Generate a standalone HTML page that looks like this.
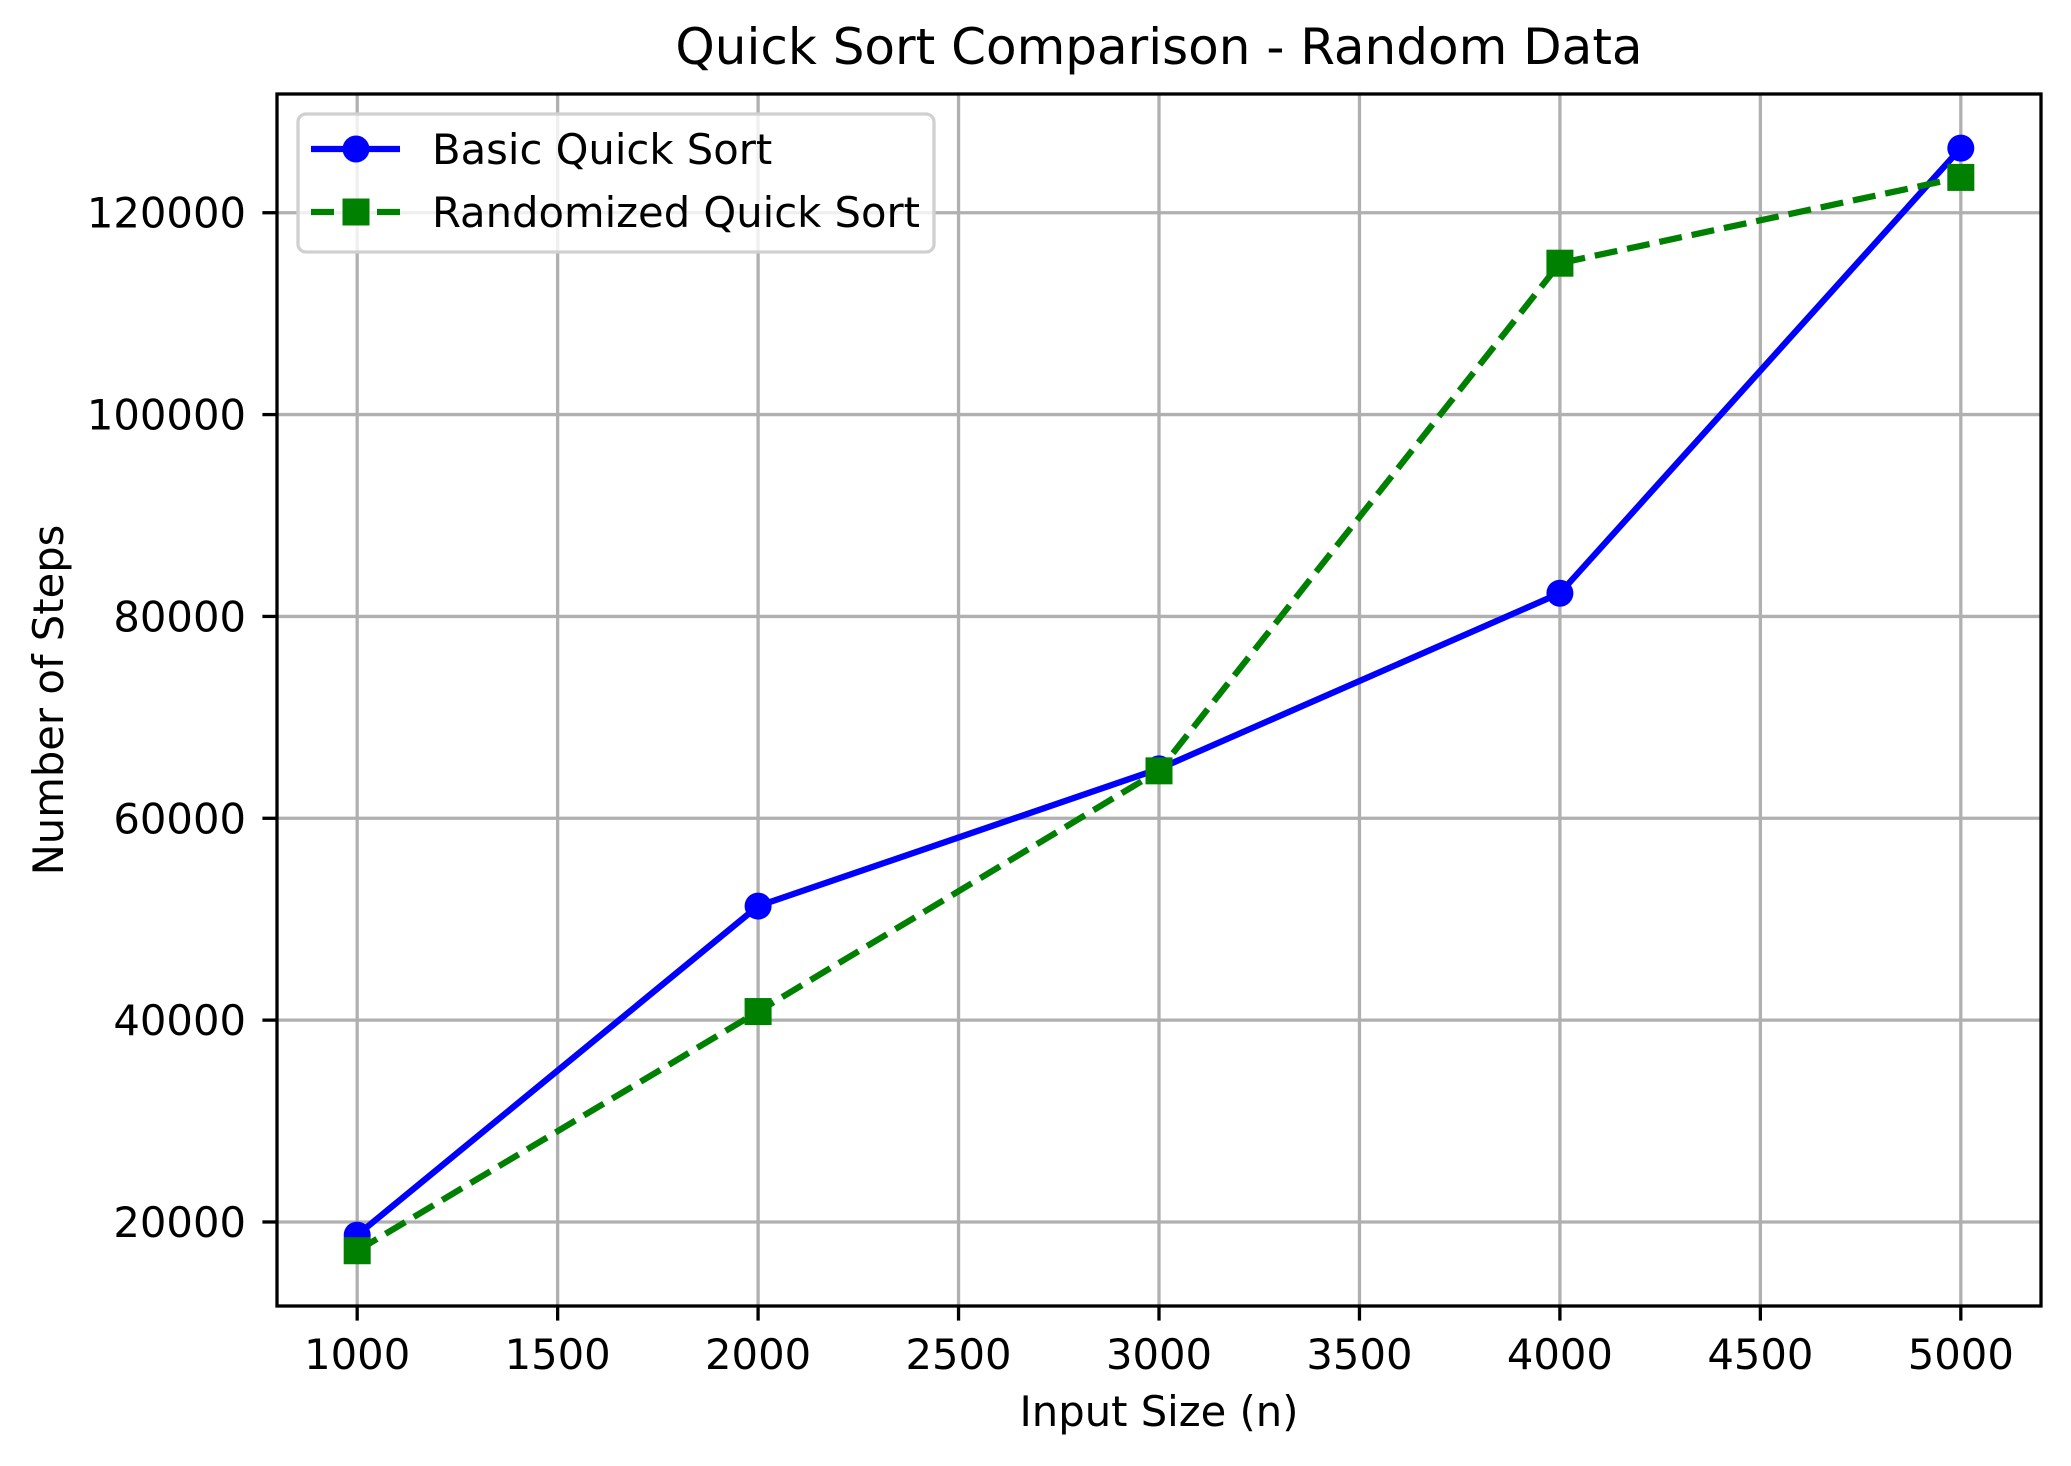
<!DOCTYPE html>
<html><head><meta charset="utf-8"><style>
html,body{margin:0;padding:0;background:#fff;}
svg{display:block;font-family:"DejaVu Sans","Liberation Sans",sans-serif;}
</style></head><body>
<svg id="chart" width="2071" height="1466" viewBox="0 0 2071 1466" xmlns="http://www.w3.org/2000/svg">
<rect x="0" y="0" width="2071" height="1466" fill="#fff"/>
<g id="grid"></g>
<g id="series"></g>
<rect x="277" y="94" width="1764" height="1212" fill="none" stroke="#000" stroke-width="3.3"/>
<g id="ticks"></g>
<text x="1159" y="64" font-size="50" text-anchor="middle">Quick Sort Comparison - Random Data</text>
<text x="1159" y="1426" font-size="41.7" text-anchor="middle">Input Size (n)</text>
<text x="0" y="0" font-size="41.7" text-anchor="middle" transform="translate(63,700) rotate(-90)">Number of Steps</text>
<g>
<rect x="298" y="114" width="636" height="138" rx="8" fill="#fff" fill-opacity="0.8" stroke="#d0d0d0" stroke-width="3.3"/>
<g>
<line x1="311" y1="149" x2="400" y2="149" stroke="#0000ff" stroke-width="6.25"/>
<circle cx="356" cy="149" r="13.5" fill="#0000ff"/>
<text x="432" y="164" font-size="41.7">Basic Quick Sort</text>
</g>
<g>
<line x1="311" y1="212" x2="400" y2="212" stroke="#008000" stroke-width="6.25" stroke-dasharray="23 10"/>
<rect x="342.5" y="198.5" width="27" height="27" fill="#008000"/>
<text x="432" y="227" font-size="41.7">Randomized Quick Sort</text>
</g>
</g>
</svg>
<script>
const xValues = [1000, 2000, 3000, 4000, 5000];
const basicSteps = [18700, 51300, 64900, 82300, 126400];
const randomizedSteps = [17150, 40850, 64700, 115000, 123500];
const xTicks = [1000, 1500, 2000, 2500, 3000, 3500, 4000, 4500, 5000];
const yTicks = [20000, 40000, 60000, 80000, 100000, 120000];

const NS = 'http://www.w3.org/2000/svg';
const L = 277, R = 2041, T = 94, B = 1306;
const XMIN = 800, XMAX = 5200, YMIN = 11675, YMAX = 131764;
function sx(v){ return L + (v - XMIN) / (XMAX - XMIN) * (R - L); }
function sy(v){ return B - (v - YMIN) / (YMAX - YMIN) * (B - T); }
function mk(tag, attrs, parent){
  const e = document.createElementNS(NS, tag);
  for (const k in attrs) e.setAttribute(k, attrs[k]);
  parent.appendChild(e);
  return e;
}
const grid = document.getElementById('grid');
const ticks = document.getElementById('ticks');
const series = document.getElementById('series');

xTicks.forEach(v => {
  const x = sx(v);
  const g = mk('line', {x1:x, y1:T, x2:x, y2:B, stroke:'#b0b0b0', 'stroke-width':3.3}, grid);
  
  
  const t = mk('line', {x1:x, y1:B, x2:x, y2:B+14.6, stroke:'#000', 'stroke-width':3.3}, ticks);
  
  
  const lb = mk('text', {x:x, y:B+63, 'font-size':41.7, 'text-anchor':'middle'}, ticks);
  lb.textContent = v;
  
  
});
yTicks.forEach(v => {
  const y = sy(v);
  const g = mk('line', {x1:L, y1:y, x2:R, y2:y, stroke:'#b0b0b0', 'stroke-width':3.3}, grid);
  
  
  const t = mk('line', {x1:L-14.6, y1:y, x2:L, y2:y, stroke:'#000', 'stroke-width':3.3}, ticks);
  
  
  const lb = mk('text', {x:L-31, y:y+15, 'font-size':41.7, 'text-anchor':'end'}, ticks);
  lb.textContent = v;
  
  
});

const pb = xValues.map((x,i) => sx(x)+','+sy(basicSteps[i])).join(' ');
const lineB = mk('polyline', {points:pb, fill:'none', stroke:'#0000ff', 'stroke-width':6.25, 'stroke-linejoin':'round'}, series);


const pr = xValues.map((x,i) => sx(x)+','+sy(randomizedSteps[i])).join(' ');
const lineR = mk('polyline', {points:pr, fill:'none', stroke:'#008000', 'stroke-width':6.25, 'stroke-dasharray':'23 10'}, series);


xValues.forEach((x,i) => {
  const c = mk('circle', {cx:sx(x), cy:sy(basicSteps[i]), r:13.5, fill:'#0000ff'}, series);
  
  
});
xValues.forEach((x,i) => {
  const s = mk('rect', {x:sx(x)-13.5, y:sy(randomizedSteps[i])-13.5, width:27, height:27, fill:'#008000'}, series);
  
  
});
</script>
</body></html>
